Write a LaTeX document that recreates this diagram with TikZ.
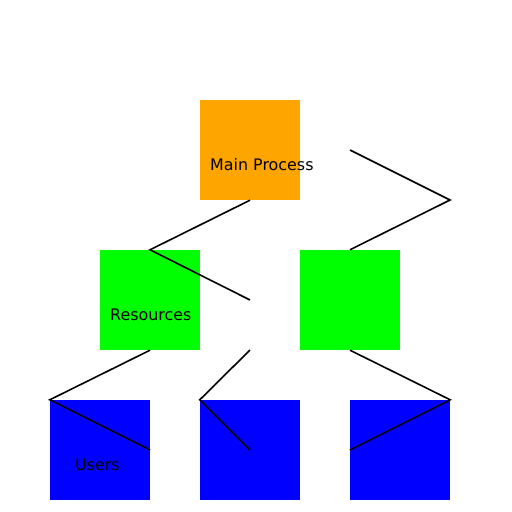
\documentclass[tikz,border=0pt]{standalone}
\usepackage{fontspec}
\setmainfont{DejaVu Sans}
\usepackage{tikz}

\begin{document}
\begin{tikzpicture}[x=1pt,y=-1pt]
        \tikzset{box/.style={rectangle,inner sep=0pt,minimum size=100pt},
                 lbl/.style={anchor=west,inner sep=0pt,font=\fontsize{15.9}{18}\selectfont}}
        \useasboundingbox (0,0) rectangle (512,512);
        % Define the boxes
        \node[box,fill={rgb,255:red,255;green,165;blue,0}] (main) at (250,150) {};
        \node[box,fill={rgb,255:red,0;green,255;blue,0}]   (res)  at (150,300) {};
        \node[box,fill={rgb,255:red,0;green,255;blue,0}]   (side) at (350,300) {};
        \node[box,fill={rgb,255:red,0;green,0;blue,255}]   (usrA) at (100,450) {};
        \node[box,fill={rgb,255:red,0;green,0;blue,255}]   (usrB) at (250,450) {};
        \node[box,fill={rgb,255:red,0;green,0;blue,255}]   (usrC) at (400,450) {};
        % Labels
        \node[lbl] (mainlbl) at (210,165) {Main Process};
        \node[lbl] (reslbl)  at (110,315) {Resources};
        \node[lbl] (usrlbl)  at (75,465)  {Users};
        % Free ends
        \coordinate (p1) at (350,150);
        \coordinate (p2) at (450,200);
        \coordinate (p3) at (250,300);
        \coordinate (p4) at (250,350);
        % Connect the boxes
        \draw[line width=1.6pt] (p1) -- (p2) -- (side.north);
        \draw[line width=1.6pt] (main.south) -- (res.north) -- (p3);
        \draw[line width=1.6pt] (res.south) -- (usrA.north west) -- (usrA.east);
        \draw[line width=1.6pt] (p4) -- (usrB.north west) -- (usrB.center);
        \draw[line width=1.6pt] (side.south) -- (usrC.north east) -- (usrC.west);
    \end{tikzpicture}
\end{document}
